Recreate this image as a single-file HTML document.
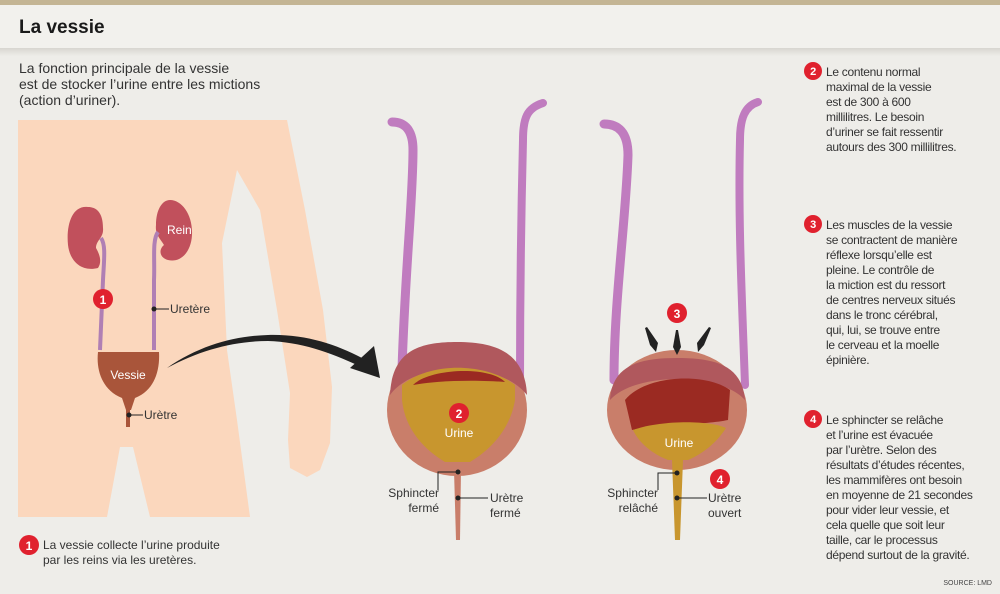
<!DOCTYPE html>
<html><head><meta charset="utf-8"><style>
body{margin:0;width:1000px;height:594px;overflow:hidden;background:#eeede9;font-family:"Liberation Sans",sans-serif;}
svg{position:absolute;left:0;top:0}
</style></head><body>
<svg width="1000" height="594" viewBox="0 0 1000 594" font-family="Liberation Sans, sans-serif">
<defs><linearGradient id="sh" x1="0" y1="0" x2="0" y2="1"><stop offset="0" stop-color="#d8d6d0"/><stop offset="1" stop-color="#eeede9"/></linearGradient></defs>
<rect x="0" y="0" width="1000" height="594" fill="#eeede9"/>
<rect x="0" y="0" width="1000" height="5" fill="#c4b594"/>
<rect x="0" y="5" width="1000" height="43" fill="#f2f1ed"/>
<rect x="0" y="48" width="1000" height="8" fill="url(#sh)"/>
<text x="19" y="33" font-size="19" font-weight="bold" fill="#1a1a1a">La vessie</text>
<g font-size="14" fill="#333"><text x="19" y="73">La fonction principale de la vessie</text><text x="19" y="89">est de stocker l’urine entre les mictions</text><text x="19" y="105">(action d’uriner).</text></g>
<!-- body -->
<path d="M18,120 L287,120 L305,210 L323,310 L332,387 L330,443 L320,470 L307,477 L290,468 L288,440 L290,393 L277,310 L260,210 L237,170 L222,243 L227,350 L237,420 L250,517 L150,517 L133,447 L120,447 L107,517 L18,517 Z" fill="#fbd7bd"/>
<!-- kidneys -->
<path d="M88,207 C72,205 66,225 68,245 C70,262 82,272 98,268 C102,262 100,255 96,248 C96,240 104,238 103,228 C103,212 96,207 88,207 Z" fill="#c1505c"/>
<path d="M170,200 C182,200 193,215 192,235 C191,253 180,263 168,260 C160,258 158,250 164,245 C160,238 155,235 156,225 C156,210 162,200 170,200 Z" fill="#c1505c"/>
<path d="M101,238 C106,245 104,260 103,280 L100,350" stroke="#b07fb4" stroke-width="4" fill="none"/>
<path d="M158,232 C152,240 155,260 154,280 L154,350" stroke="#b07fb4" stroke-width="4" fill="none"/>
<path d="M98,352 L159,352 C160,370 155,390 135,398 L131,410 L126,410 L122,398 C102,390 96,370 98,352 Z" fill="#a9553a"/>
<rect x="126" y="405" width="4" height="22" fill="#a9553a"/>
<text x="128" y="379" font-size="12" fill="#fff" text-anchor="middle">Vessie</text>
<text x="167" y="234" font-size="12" fill="#fff">Rein</text>
<circle cx="103" cy="299" r="10" fill="#e0212e"/><text x="103" y="304" font-size="12" font-weight="bold" fill="#fff" text-anchor="middle">1</text>
<circle cx="154" cy="309" r="2.5" fill="#222"/><line x1="154" y1="309" x2="169" y2="309" stroke="#222"/><text x="170" y="313" font-size="12" fill="#333">Uretère</text>
<circle cx="129" cy="415" r="2.5" fill="#222"/><line x1="129" y1="415" x2="143" y2="415" stroke="#222"/><text x="144" y="419" font-size="12" fill="#333">Urètre</text>
<!-- arrow -->
<path d="M167,368 C200,345 235,336 268,335 C305,334 335,344 362,358 L359,366 C330,352 300,342 268,341 C235,341 200,350 167,368 Z" fill="#222"/>
<path d="M350,368 L374,346 L380,378 Z" fill="#222"/>
<!-- ureters -->
<g fill="none" stroke="#c07cbf" stroke-linecap="round">
<path d="M392,122 C405,122 413,130 413,150 C413,200 405,270 402,370" stroke-width="9"/>
<path d="M543,103 C527,108 523,118 523,140 C521,220 520,300 520,385" stroke-width="8"/>
<path d="M604,124 C618,124 628,132 628,155 C626,220 614,300 614,380" stroke-width="9"/>
<path d="M758,102 C745,106 740,118 740,140 C738,220 742,300 745,385" stroke-width="8"/>
</g>
<!-- bladder 1 -->
<ellipse cx="457" cy="410" rx="70" ry="66" fill="#c97e6a"/>
<path d="M390,395 C392,350 420,342 457,342 C495,342 525,352 527,395 C500,360 415,360 390,395 Z" fill="#b0585d"/>
<path d="M402,385 C430,362 485,362 515,385 L515,400 C510,430 490,450 470,462 L445,462 C425,450 405,430 402,400 Z" fill="#c8962e"/>
<path d="M413,385 C430,368 490,366 505,382 C480,380 440,380 413,385 Z" fill="#9b2a22"/>
<path d="M454,470 L461,470 L460,540 L456,540 Z" fill="#c97e6a"/>
<circle cx="458" cy="472" r="2.5" fill="#222"/><circle cx="458" cy="498" r="2.5" fill="#222"/>
<polyline points="458,472 438,472 438,490" fill="none" stroke="#222"/>
<line x1="458" y1="498" x2="488" y2="498" stroke="#222"/>
<circle cx="459" cy="413" r="10" fill="#e0212e"/><text x="459" y="418" font-size="12" font-weight="bold" fill="#fff" text-anchor="middle">2</text>
<text x="459" y="437" font-size="12" fill="#fff" text-anchor="middle">Urine</text>
<g font-size="12" fill="#333" text-anchor="end"><text x="439" y="497">Sphincter</text><text x="439" y="512">fermé</text></g>
<g font-size="12" fill="#333"><text x="490" y="502">Urètre</text><text x="490" y="517">fermé</text></g>
<!-- bladder 2 -->
<ellipse cx="677" cy="410" rx="70" ry="60" fill="#c97e6a"/>
<path d="M610,400 C612,365 640,358 677,358 C715,358 742,365 745,400 C720,372 635,372 610,400 Z" fill="#b0585d"/>
<path d="M625,400 C645,375 705,372 730,390 L728,420 C705,425 650,425 632,430 Z" fill="#9b2a22"/>
<path d="M633,430 C660,420 710,420 726,428 C715,445 700,455 688,460 L668,460 C655,455 640,445 633,430 Z" fill="#c8962e"/>
<path d="M672,460 L683,460 L680,540 L675,540 Z" fill="#c8962e"/>
<circle cx="677" cy="473" r="2.5" fill="#222"/><circle cx="677" cy="498" r="2.5" fill="#222"/>
<polyline points="677,473 658,473 658,490" fill="none" stroke="#222"/>
<line x1="677" y1="498" x2="707" y2="498" stroke="#222"/>
<text x="679" y="447" font-size="12" fill="#fff" text-anchor="middle">Urine</text>
<circle cx="720" cy="479" r="10" fill="#e0212e"/><text x="720" y="484" font-size="12" font-weight="bold" fill="#fff" text-anchor="middle">4</text>
<g font-size="12" fill="#333" text-anchor="end"><text x="658" y="497">Sphincter</text><text x="658" y="512">relâché</text></g>
<g font-size="12" fill="#333"><text x="708" y="502">Urètre</text><text x="708" y="517">ouvert</text></g>
<circle cx="677" cy="313" r="10" fill="#e0212e"/><text x="677" y="318" font-size="12" font-weight="bold" fill="#fff" text-anchor="middle">3</text>
<g fill="#222"><path d="M676,330 L678,330 L681,347 L677,355 L673,347 Z"/><path d="M645,328 L647,327 L658,343 L656,352 L650,345 Z"/><path d="M709,327 L711,328 L704,345 L698,352 L697,343 Z"/></g>
<!-- left note -->
<circle cx="29" cy="545" r="10" fill="#e0212e"/><text x="29" y="550" font-size="12" font-weight="bold" fill="#fff" text-anchor="middle">1</text>
<g font-size="12" fill="#333"><text x="43" y="549">La vessie collecte l’urine produite</text><text x="43" y="564">par les reins via les uretères.</text></g>
<!-- right notes -->
<g font-size="12" fill="#333" letter-spacing="-0.3">
<circle cx="813" cy="71" r="9" fill="#e0212e"/><text x="813" y="75" font-size="11" font-weight="bold" fill="#fff" text-anchor="middle">2</text>
<text x="826" y="76">Le contenu normal</text><text x="826" y="91">maximal de la vessie</text><text x="826" y="106">est de 300 à 600</text><text x="826" y="121">millilitres. Le besoin</text><text x="826" y="136">d’uriner se fait ressentir</text><text x="826" y="151">autours des 300 millilitres.</text>
<circle cx="813" cy="224" r="9" fill="#e0212e"/><text x="813" y="228" font-size="11" font-weight="bold" fill="#fff" text-anchor="middle">3</text>
<text x="826" y="229">Les muscles de la vessie</text><text x="826" y="244">se contractent de manière</text><text x="826" y="259">réflexe lorsqu’elle est</text><text x="826" y="274">pleine. Le contrôle de</text><text x="826" y="289">la miction est du ressort</text><text x="826" y="304">de centres nerveux situés</text><text x="826" y="319">dans le tronc cérébral,</text><text x="826" y="334">qui, lui, se trouve entre</text><text x="826" y="349">le cerveau et la moelle</text><text x="826" y="364">épinière.</text>
<circle cx="813" cy="419" r="9" fill="#e0212e"/><text x="813" y="423" font-size="11" font-weight="bold" fill="#fff" text-anchor="middle">4</text>
<text x="826" y="424">Le sphincter se relâche</text><text x="826" y="439">et l’urine est évacuée</text><text x="826" y="454">par l’urètre. Selon des</text><text x="826" y="469">résultats d’études récentes,</text><text x="826" y="484">les mammifères ont besoin</text><text x="826" y="499">en moyenne de 21 secondes</text><text x="826" y="514">pour vider leur vessie, et</text><text x="826" y="529">cela quelle que soit leur</text><text x="826" y="544">taille, car le processus</text><text x="826" y="559">dépend surtout de la gravité.</text>
</g>
<text x="992" y="585" font-size="7" fill="#444" text-anchor="end">SOURCE: LMD</text>
</svg>
</body></html>
